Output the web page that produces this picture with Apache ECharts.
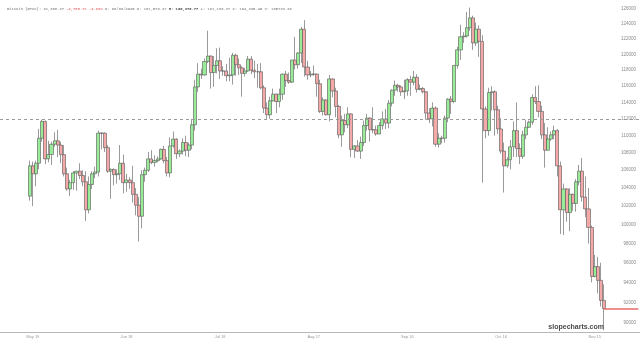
<!DOCTYPE html>
<html><head><meta charset="utf-8">
<script src="https://cdn.jsdelivr.net/npm/echarts@6/dist/echarts.min.js"></script>
<style>html,body{margin:0;padding:0;background:#fff}#c{width:640px;height:343px}</style>
</head><body><div id="c"></div>
<script>
// Daily Bitcoin candles, values in thousands of USD, first candle 2025-05-18
const firstDay = '2025-05-18';
const padBefore = 9, padAfter = 11;
const openK = [
103.1,106.5,105.6,106.8,109.7,111.7,107.3,107.8,109.0,109.4,108.9,107.8,105.6,103.9,
104.6,105.7,105.9,105.4,104.7,101.6,104.4,105.6,105.8,110.3,110.3,108.6,105.9,106.1,105.5,105.6,106.8,104.6,104.9,104.6,103.3,102.1,100.9,105.5,106.0,107.3,106.9,107.1,107.3,108.4,
107.1,105.7,108.8,109.6,107.9,108.2,109.2,108.3,108.9,111.3,115.9,117.5,117.4,119.1,119.8,117.7,118.6,119.2,117.9,117.9,117.3,117.4,119.9,118.7,118.3,117.6,117.9,119.4,118.0,117.8,117.8,
115.8,113.3,112.5,114.2,115.0,114.1,115.0,117.5,116.7,116.5,119.3,118.7,120.2,123.3,118.4,117.4,117.5,117.5,116.3,112.9,114.3,112.5,116.9,115.4,113.5,110.1,111.8,111.3,112.6,108.4,108.8,
108.2,109.2,111.2,112.1,110.7,110.7,110.2,111.2,112.0,111.5,113.9,115.5,116.1,115.9,115.3,115.4,116.8,116.5,117.1,115.6,115.7,115.3,112.7,112.0,113.3,109.0,109.7,109.7,112.1,114.4,
114.1,118.6,120.6,122.3,122.4,123.5,124.8,121.5,123.3,121.7,113.2,110.6,115.2,115.3,113.1,110.8,108.2,106.5,107.2,108.7,110.6,108.5,107.6,110.1,111.0,111.6,114.6,114.1,112.9,110.1,108.3,
109.6,110.1,110.6,106.5,101.6,103.9,101.3,103.3,102.3,104.7,105.9,103.0,101.7,99.7,94.6,95.6,94.2,92.2];
const highK = [
107.1,107.0,107.1,110.8,111.9,111.8,109.4,109.3,110.4,110.7,109.3,108.9,106.3,104.9,
105.9,105.9,106.8,106.0,105.9,105.3,105.9,106.4,110.6,110.4,110.4,108.9,106.2,106.2,106.1,108.9,107.8,105.6,105.2,106.5,104.0,103.0,106.0,106.3,108.1,108.3,107.7,107.6,108.5,108.8,
107.5,109.8,110.5,109.7,108.4,109.7,110.0,109.2,112.0,116.8,118.9,118.2,119.5,123.1,119.9,119.8,120.8,120.9,118.5,118.8,119.6,120.2,120.1,119.5,118.5,118.3,119.8,119.8,119.2,118.8,118.9,
116.1,114.0,114.7,115.7,115.1,115.7,117.6,117.9,117.7,119.3,122.3,120.3,123.6,124.5,119.2,117.9,118.6,117.6,116.8,114.6,114.4,117.4,117.0,115.8,113.7,112.4,112.6,113.4,112.7,108.9,109.5,
109.9,111.8,112.6,112.2,113.4,111.2,111.6,112.9,113.2,114.3,115.6,116.7,116.3,116.1,116.8,117.0,117.3,117.9,117.5,116.2,115.9,115.4,113.3,114.0,113.5,110.3,110.0,112.4,114.5,114.8,
118.6,121.0,123.9,122.9,125.6,126.2,125.1,124.2,123.8,122.5,113.5,115.8,116.0,115.5,113.6,112.1,109.2,107.5,109.5,111.7,114.0,109.1,110.6,111.9,111.8,115.0,116.0,116.1,113.6,111.5,111.0,
110.5,111.2,110.8,107.0,104.5,104.0,104.0,103.4,105.0,106.6,107.4,105.3,104.0,99.9,96.8,96.6,96.0,93.8];
const lowK = [
102.6,102.0,104.2,106.1,109.3,106.7,106.9,106.6,108.7,107.5,106.8,105.3,103.7,103.1,
103.8,103.7,105.0,104.2,100.4,101.2,103.9,105.1,105.3,108.4,108.1,105.7,102.8,104.3,104.5,104.9,103.4,103.6,103.9,102.4,101.0,98.2,99.6,104.7,105.8,106.7,106.4,106.9,107.2,106.8,
105.3,105.2,108.6,107.3,107.5,107.8,107.6,107.5,108.4,110.6,115.3,116.9,117.3,118.9,115.7,115.9,117.6,116.9,117.3,116.6,116.6,116.2,117.3,117.4,114.7,117.2,117.8,117.5,117.0,115.8,115.6,
112.7,112.0,112.0,114.1,112.7,113.4,114.3,115.9,116.3,116.4,118.1,118.2,118.9,117.2,116.8,117.1,117.3,114.7,112.7,112.4,112.4,111.7,114.6,112.2,109.7,108.7,110.4,110.9,107.5,107.4,108.1,
107.3,108.8,110.6,109.3,110.3,110.0,110.2,110.7,110.8,110.9,113.5,114.8,115.3,114.8,114.4,114.8,114.8,116.1,115.2,115.5,115.1,111.9,111.5,111.1,108.7,108.6,109.1,109.2,111.6,112.6,
113.9,118.2,119.3,121.5,122.2,123.1,120.6,121.1,119.7,104.6,109.7,110.0,113.0,110.0,110.2,107.9,103.5,106.3,106.1,107.5,107.5,106.7,107.3,109.6,110.9,111.3,113.8,112.2,109.6,106.3,108.3,
109.4,109.6,105.3,99.0,98.9,100.3,99.3,101.5,101.4,104.3,102.5,100.8,98.0,94.0,94.5,92.9,91.6,89.3];
const closeK = [
106.5,105.6,106.8,109.7,111.7,107.3,107.8,109.0,109.4,108.9,107.8,105.6,103.9,104.6,
105.7,105.9,105.4,104.7,101.6,104.4,105.6,105.8,110.3,110.3,108.6,105.9,106.1,105.5,105.6,106.8,104.6,104.9,104.6,103.3,102.1,100.9,105.5,106.0,107.3,106.9,107.1,107.3,108.4,107.1,
105.7,108.8,109.6,107.9,108.2,109.2,108.3,108.9,111.3,115.9,117.5,117.4,119.1,119.8,117.7,118.6,119.2,117.9,117.9,117.3,117.4,119.9,118.7,118.3,117.6,117.9,119.4,118.0,117.8,117.8,115.8,
113.3,112.5,114.2,115.0,114.1,115.0,117.5,116.7,116.5,119.3,118.7,120.2,123.3,118.4,117.4,117.5,117.5,116.3,112.9,114.3,112.5,116.9,115.4,113.5,110.1,111.8,111.3,112.6,108.4,108.8,108.2,
109.2,111.2,112.1,110.7,110.7,110.2,111.2,112.0,111.5,113.9,115.5,116.1,115.9,115.3,115.4,116.8,116.5,117.1,115.6,115.7,115.3,112.7,112.0,113.3,109.0,109.7,109.7,112.1,114.4,114.1,
118.6,120.6,122.3,122.4,123.5,124.8,121.5,123.3,121.7,113.2,110.6,115.2,115.3,113.1,110.8,108.2,106.5,107.2,108.7,110.6,108.5,107.6,110.1,111.0,111.6,114.6,114.1,112.9,110.1,108.3,109.6,
110.1,110.6,106.5,101.6,103.9,101.3,103.3,102.3,104.7,105.9,103.0,101.7,99.7,94.6,95.6,94.2,92.2,91.4];
const yTicksK = [90,92,94,96,98,100,102,104,106,108,110,112,114,116,118,120,122,124,126];
const refLineK = 112;
const yMinK = 89.13, yMaxK = 127.22;
const headerParts = ['Bitcoin (BTCC): 91,388.37 ', '-2,788.71 -2.96%', ' D: 06/06/2025 O: 101,576.37 ', 'H: 106,376.77', ' L: 101,169.37 C: 104,395.45 V: 105733.99'];
const MONTHS = ['Jan','Feb','Mar','Apr','May','Jun','Jul','Aug','Sep','Oct','Nov','Dec'];

// categories (dates), padded with empty days before and after
const t0 = Date.parse(firstDay + 'T00:00:00Z');
const total = padBefore + closeK.length + padAfter;
const categories = [];
for (let i = 0; i < total; i++) {
  const d = new Date(t0 + (i - padBefore) * 86400000);
  categories.push(d.toISOString().slice(0, 10));
}
const candles = categories.map((c, i) => {
  const k = i - padBefore;
  if (k < 0 || k >= closeK.length) return ['-', '-', '-', '-'];
  return [openK[k], closeK[k], lowK[k], highK[k]];
});
const lastIdx = padBefore + closeK.length - 1;
const lastClose = closeK[closeK.length - 1];

const chart = echarts.init(document.getElementById('c'), null, {renderer: 'canvas'});
chart.setOption({
  animation: false,
  backgroundColor: '#fff',
  title: [{
    left: 2, top: 2,
    text: '{a|' + headerParts[0] + '}{r|' + headerParts[1] + '}{a|' + headerParts[2] + '}{b|' + headerParts[3] + '}{a|' + headerParts[4] + '}',
    textStyle: {
      fontSize: 3.8, fontFamily: 'Liberation Mono',
      rich: {
        a: {fontSize: 3.8, fontFamily: 'Liberation Mono', color: '#999'},
        r: {fontSize: 3.8, fontFamily: 'Liberation Mono', color: '#e88080'},
        b: {fontSize: 3.8, fontFamily: 'Liberation Mono', color: '#444', fontWeight: 'bold'}
      }
    }
  }, {
    right: 31, top: 319,
    text: 'slopecharts.com',
    textStyle: {fontSize: 7, fontFamily: 'Liberation Sans', fontWeight: 'bold', color: '#4a4a4a'}
  }],
  grid: {left: 0, right: 0, top: 0, bottom: 11, containLabel: false},
  xAxis: {
    type: 'category',
    data: categories,
    boundaryGap: true,
    axisLine: {show: true, lineStyle: {color: '#b8b8b8', width: 1}},
    axisTick: {show: false},
    splitLine: {show: false},
    axisLabel: {
      interval: (idx) => (idx - 10) % 30 === 0 && idx >= 10,
      fontSize: 4, color: '#999', margin: 3, fontFamily: 'Liberation Sans',
      formatter: (v) => { const p = v.split('-'); return MONTHS[+p[1] - 1] + ' ' + p[2]; }
    }
  },
  yAxis: [{
    type: 'log', logBase: 10,
    min: yMinK, max: yMaxK,
    position: 'right',
    axisLine: {show: false}, axisTick: {show: false},
    axisLabel: {show: false}, splitLine: {show: false}
  }, {
    type: 'value',
    min: Math.log(yMinK), max: Math.log(yMaxK),
    position: 'right',
    axisLine: {show: false}, axisTick: {show: false}, splitLine: {show: false},
    axisLabel: {
      inside: true, margin: 4,
      customValues: yTicksK.map(v => Math.log(v)),
      fontSize: 4.5, color: '#8a8a8a', fontFamily: 'Liberation Sans',
      formatter: (v) => String(Math.round(Math.exp(v)) * 1000)
    }
  }],
  series: [{
    type: 'candlestick',
    yAxisIndex: 0,
    data: candles,
    barWidth: 3.6,
    itemStyle: {
      color: '#98ec98', color0: '#f4a8a8',
      borderColor: '#555', borderColor0: '#555', borderWidth: 0.6
    },
    markLine: {
      silent: true, symbol: ['none', 'none'],
      label: {show: false},
      data: [
        {yAxis: refLineK, lineStyle: {color: '#9a9a9a', type: [3, 3], width: 1}},
        [{coord: [categories[lastIdx], lastClose], lineStyle: {color: '#e86a6a', type: 'solid', width: 1.5}},
         {coord: [categories[categories.length - 1], lastClose]}]
      ]
    }
  }]
});
</script></body></html>
